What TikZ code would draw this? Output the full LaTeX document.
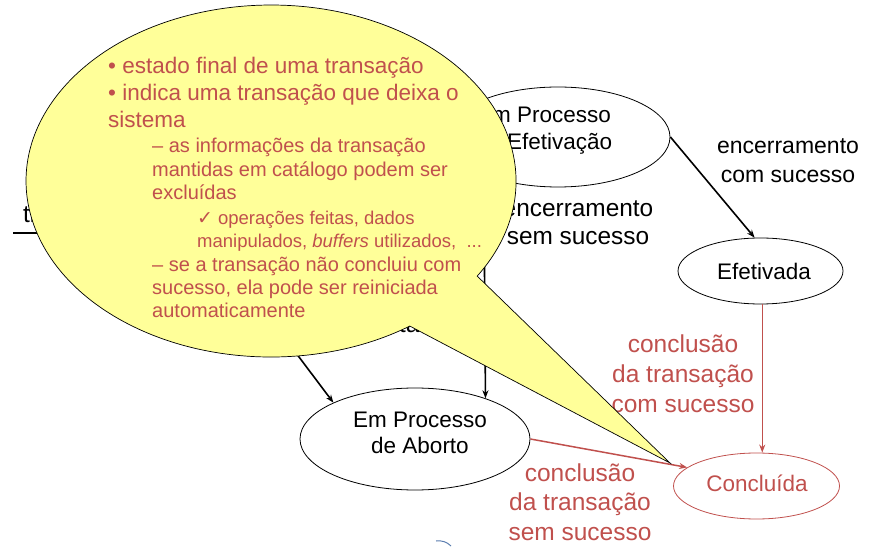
\documentclass[tikz,border=0pt]{standalone}
\usepackage{fontspec}
\setmainfont{Liberation Sans}
\newfontfamily\djv{DejaVu Sans}
\usetikzlibrary{shapes.geometric,arrows.meta}
\definecolor{redt}{RGB}{192,80,77}
\definecolor{callfill}{RGB}{255,255,153}
\definecolor{arcblue}{RGB}{90,125,175}
\newcommand{\tlines}[1]{\begin{tabular}[t]{@{}c@{}}#1\end{tabular}}
\begin{document}
\begin{tikzpicture}[x=1pt,y=1pt,
  st/.style={ellipse,draw=black,line width=0.8pt,inner sep=0pt},
  stred/.style={ellipse,draw=redt,line width=0.8pt,inner sep=0pt},
  ntext/.style={anchor=base,inner sep=0pt,font={\fontsize{22.5}{26.5}\selectfont}},
  blab/.style={anchor=base,inner sep=0pt},
  rlab/.style={anchor=base,inner sep=0pt,text=redt,font={\fontsize{24.5}{29.5}\selectfont}},
  arr/.style={line width=1.6pt,-{Stealth[length=8pt,width=6pt]}},
  rarr/.style={draw=redt,line width=1.5pt,-{Stealth[length=8pt,width=6pt]}},
  callout/.style={fill=callfill,draw=black,line width=0.7pt}
]
\useasboundingbox (0,0) rectangle (874,546);

% states
\node[st,minimum width=224pt,minimum height=100pt] (efet) at (558,409) {};
\node[ntext] (efetT) at (544,423) {\tlines{Em Processo\\de Efetivação}};
\node[st,minimum width=165pt,minimum height=66pt] (efetivada) at (760.5,275) {};
\node[ntext] (efetivadaT) at (764,266) {Efetivada};
\node[st,minimum width=230pt,minimum height=102pt] (abort) at (415,107) {};
\node[ntext] (abortT) at (420,119) {\tlines{Em Processo\\de Aborto}};
\node[stred,minimum width=166pt,minimum height=66pt] (concl) at (756.5,60) {};
\node[ntext,text=redt] (conclT) at (757,55) {Concluída};

% hidden ends of connectors under the callout
\coordinate (ativa) at (229,282);
\coordinate (initL) at (13,313);
\coordinate (initR) at (150,313);

% connectors
\draw[line width=1.8pt] (initL) -- (initR);
\draw[arr] (efet.east) -- (efetivada.100);
\draw[arr] (efet.207.5) -- (abort.30);
\draw[arr] (ativa) -- (abort.156);
\draw[rarr] (efetivada.-87) -- (efetivada.-87 |- concl.north);
\draw[rarr] (abort.east) -- (concl.165);

% labels
\node[blab,font={\fontsize{23}{29}\selectfont}] (lblcom) at (788,392) {\tlines{encerramento\\com sucesso}};
\node[blab,font={\fontsize{24.4}{28}\selectfont}] (lblsem) at (578,329) {\tlines{encerramento\\sem sucesso}};
\node[rlab] (lblccom) at (683,193) {\tlines{conclusão\\da transação\\com sucesso}};
\node[rlab] (lblcsem) at (580,65) {\tlines{conclusão\\da transação\\sem sucesso}};
\node[blab,anchor=base west,font={\fontsize{24.4}{28}\selectfont}] (lblti) at (23,323) {ti};
\node[blab,anchor=base east,font={\fontsize{25}{28}\selectfont}] (lblta) at (420,213) {ta};

% small arc at the bottom
\draw[arcblue,line width=1pt] (436,5) to[bend left=25] (451,0);

% callout
\draw[callout] (477.2,269.9) arc[start angle=-32.7,end angle=304.5,x radius=245,y radius=176] -- (670,83) -- cycle;
\node[anchor=base west,inner sep=0pt,text=redt] (calltext) at (108,472) {\vtop{%
\fontsize{22.5}{27}\selectfont
\hbox{•\ estado final de uma transação}
\hbox{•\ indica uma transação que deixa o}
\hbox{sistema}
\fontsize{20}{25}\selectfont
\hbox{\hspace*{44pt}– as informações da transação}
\baselineskip=24pt
\hbox{\hspace*{44pt}mantidas em catálogo podem ser}
\baselineskip=23pt
\hbox{\hspace*{44pt}excluídas}
\fontsize{18.5}{25}\selectfont
\hbox{\hspace*{89pt}{\djv\fontsize{19}{19}\selectfont ✓}\hspace{5pt}operações feitas, dados}
\baselineskip=23pt
\hbox{\hspace*{89pt}manipulados, \textit{buffers} utilizados,\ \ ...}
\fontsize{20}{24}\selectfont
\hbox{\hspace*{44pt}– se a transação não concluiu com}
\baselineskip=23pt
\hbox{\hspace*{44pt}sucesso, ela pode ser reiniciada}
\hbox{\hspace*{44pt}automaticamente}
}};
\end{tikzpicture}
\end{document}
